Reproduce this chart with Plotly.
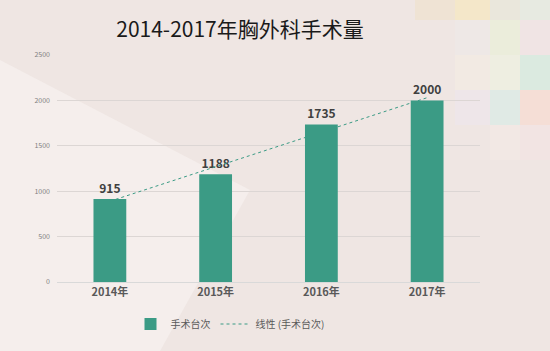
import plotly.graph_objects as go
import numpy as np

categories = ["2014年", "2015年", "2016年", "2017年"]
values = [915, 1188, 1735, 2000]
y_ticks = [0, 500, 1000, 1500, 2000, 2500]
title = "2014-2017年胸外科手术量"
bar_name = "手术台次"
trend_name = "线性 (手术台次)"

xi = np.arange(1, len(values) + 1)
slope, intercept = np.polyfit(xi, values, 1)
trend = [slope * x + intercept for x in xi]

bar_color = "#3b9b85"
font_family = "Noto Sans CJK SC, Open Sans, sans-serif"

W, H = 550, 351
ML, MR, MT, MB = 57, 70, 55, 69
PW, PH = W - ML - MR, H - MT - MB

def px(x):
    return (x - ML) / PW

def py(y):
    return (H - MB - y) / PH

fig = go.Figure()
fig.add_trace(go.Bar(
    x=categories, y=values, name=bar_name, width=0.31,
    marker=dict(color=bar_color, line=dict(width=0)),
    texttemplate="<b>%{y}</b>", textposition="outside",
    textfont=dict(size=12, color="#404040", family=font_family),
    cliponaxis=False,
))
fig.add_trace(go.Scatter(
    x=categories, y=trend, name=trend_name, mode="lines",
    line=dict(color="#3b9b85", width=1, dash="dot"),
))

# decorative background tiles (top right), pixel boxes
tiles = [
    (415, 0, 455, 20, "#efe2cf"),
    (455, 0, 490, 20, "#f5e7c2"),
    (490, 0, 520, 20, "#e8e7da"),
    (520, 0, 550, 20, "#e5ebe0"),
    (455, 20, 490, 55, "#eee8e6"),
    (490, 20, 520, 55, "#eaefd8"),
    (520, 20, 550, 55, "#f0e3e3"),
    (455, 55, 490, 90, "#f3ebe2"),
    (490, 55, 520, 90, "#eef0e0"),
    (520, 55, 550, 90, "#d6ebdf"),
    (455, 90, 490, 125, "#ede6ea"),
    (490, 90, 520, 125, "#dcebe5"),
    (520, 90, 550, 125, "#f6dcd2"),
    (490, 125, 520, 160, "#f3e8e4"),
    (520, 125, 550, 160, "#f2e4e2"),
]
shapes = []
for x0, y0, x1, y1, c in tiles:
    shapes.append(dict(type="rect", xref="paper", yref="paper",
                       x0=px(x0), x1=px(x1), y0=py(y1), y1=py(y0),
                       fillcolor=c, opacity=0.8, line=dict(width=0), layer="below"))
shapes.append(dict(type="path", xref="paper", yref="paper",
                   path=f"M {px(0)},{py(60)} L {px(250)},{py(190)} L {px(160)},{py(351)} L {px(0)},{py(351)} Z",
                   fillcolor="#f8f3f2", opacity=0.6, line=dict(width=0), layer="below"))

fig.update_layout(
    width=W, height=H,
    margin=dict(l=ML, r=MR, t=MT, b=MB),
    paper_bgcolor="#efe6e3", plot_bgcolor="rgba(0,0,0,0)",
    font=dict(family=font_family),
    title=dict(text=title, x=240 / W, xanchor="center", y=1 - 30 / H, yanchor="middle",
               font=dict(size=21, color="#1a1a1a", family=font_family)),
    bargap=0.69,
    showlegend=True,
    legend=dict(orientation="h", x=px(230), xanchor="center", y=py(324), yanchor="middle",
                font=dict(size=10, color="#595959"), bgcolor="rgba(0,0,0,0)",
                itemwidth=30, tracegroupgap=0),
    shapes=shapes,
)
fig.update_xaxes(
    showgrid=False, showline=True, linecolor="#d9d9d9", linewidth=1,
    tickfont=dict(size=11, color="#595959", family="Noto Sans CJK SC"), ticks="",
    tickprefix="<b>", ticksuffix="</b>",
)
fig.update_yaxes(
    range=[0, 2500], tickvals=y_ticks, showgrid=True, gridcolor="#dcd6d4", gridwidth=1,
    zeroline=False, tickfont=dict(size=7, color="#7f7f7f"), ticks="",
    ticklabelstandoff=6, showline=False,
)

fig.write_html("out.html")
